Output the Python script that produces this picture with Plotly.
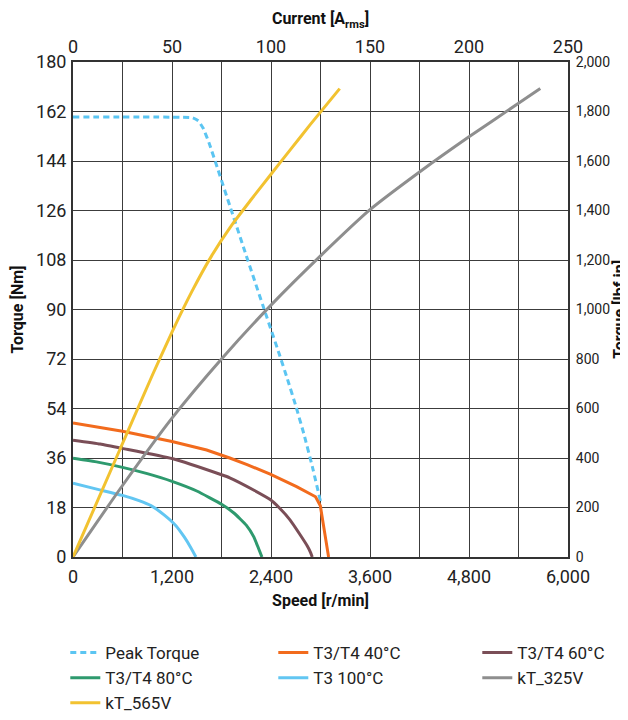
import plotly.graph_objects as go

# ---- data ----
peak_speed = [0, 1450, 1520, 1580, 1650, 1750, 1900, 2100, 2300, 2500, 2600, 2700, 2800, 2900, 3000]
peak_torque = [160, 159.7, 158.6, 155.8, 150.5, 141.5, 127.8, 109.6, 91.6, 73.8, 64.6, 55.0, 44.6, 33.0, 20.2]

t40_speed = [0, 600, 1200, 1620, 1900, 2110, 2390, 2710, 2940, 2998, 3098]
t40_torque = [48.7, 45.7, 42.0, 38.9, 36.0, 33.6, 30.1, 25.6, 21.9, 18.6, 0]

t60_speed = [0, 330, 600, 1200, 1800, 1900, 2200, 2390, 2500, 2630, 2755, 2840, 2880, 2900]
t60_torque = [42.5, 41.1, 39.5, 35.8, 29.9, 28.8, 24.2, 20.9, 17.9, 13.5, 8.0, 4.0, 1.6, 0]

t80_speed = [0, 300, 600, 900, 1200, 1500, 1800, 1950, 2100, 2190, 2240, 2290]
t80_torque = [35.9, 34.5, 32.6, 30.3, 27.5, 24.0, 19.2, 16.0, 11.6, 7.4, 3.8, 0]

t100_speed = [0, 300, 600, 800, 950, 1100, 1250, 1350, 1430, 1490]
t100_torque = [26.8, 24.6, 22.4, 20.5, 18.6, 15.4, 11.3, 7.2, 3.3, 0]

kt325_current = [0, 25, 50, 75, 100, 125, 150, 175, 200, 225, 236]
kt325_torque = [0, 26.0, 50.5, 72.0, 91.6, 109.5, 126.3, 140.0, 152.8, 165.0, 170.4]

kt565_current = [0, 20, 40, 50, 60, 70, 80, 90, 100, 110, 120, 134.7]
kt565_torque = [0, 33.0, 66.0, 81.8, 96.5, 109.5, 120.5, 130.0, 139.2, 148.3, 157.4, 170.3]

C_PEAK = '#5BC5F2'
C_40 = '#F26B1D'
C_60 = '#7A4E57'
C_80 = '#2E9A6E'
C_100 = '#62C6F2'
C_325 = '#8E8E8E'
C_565 = '#F2C230'

fig = go.Figure()
LW = 3
fig.add_trace(go.Scatter(x=peak_speed, y=peak_torque, name='Peak Torque', mode='lines',
                         line=dict(color=C_PEAK, width=LW, dash='6px,4px', shape='spline', smoothing=0.3),
                         legend='legend', legendgroup='a'))
fig.add_trace(go.Scatter(x=t40_speed, y=t40_torque, name='T3/T4 40°C', mode='lines',
                         line=dict(color=C_40, width=LW), legend='legend2', legendgroup='b'))
fig.add_trace(go.Scatter(x=t60_speed, y=t60_torque, name='T3/T4 60°C', mode='lines',
                         line=dict(color=C_60, width=LW, shape='spline', smoothing=0.4),
                         legend='legend3', legendgroup='c'))
fig.add_trace(go.Scatter(x=t80_speed, y=t80_torque, name='T3/T4 80°C', mode='lines',
                         line=dict(color=C_80, width=LW, shape='spline', smoothing=0.4),
                         legend='legend', legendgroup='d'))
fig.add_trace(go.Scatter(x=t100_speed, y=t100_torque, name='T3 100°C', mode='lines',
                         line=dict(color=C_100, width=LW, shape='spline', smoothing=0.5),
                         legend='legend2', legendgroup='e'))
fig.add_trace(go.Scatter(x=kt325_current, y=kt325_torque, name='kT_325V', mode='lines', xaxis='x2', yaxis='y',
                         line=dict(color=C_325, width=LW, shape='spline', smoothing=0.6),
                         legend='legend3', legendgroup='f'))
fig.add_trace(go.Scatter(x=kt565_current, y=kt565_torque, name='kT_565V', mode='lines', xaxis='x2', yaxis='y',
                         line=dict(color=C_565, width=LW, shape='spline', smoothing=0.6),
                         legend='legend', legendgroup='g'))
# anchor trace so the right-hand lbf·in axis is drawn
fig.add_trace(go.Scatter(x=[None], y=[None], xaxis='x', yaxis='y2', showlegend=False,
                         hoverinfo='skip', mode='lines'))

GRID = '#3c3c3c'
TICKFONT = dict(size=18, color='#222')
RIGHTFONT = dict(size=14, color='#222')
TITLEFONT = dict(size=16, color='#111', family='Roboto')

# page body has an 8px margin: keep the whole page within the 628x720 window
W, H = 620, 704
L, R, T, B = 64.7, 60.3, 54, 155
pw = W - L - R
ph = H - T - B

def px2x(px):
    return (px - L) / pw

def py2y(py):
    return (H - B - py) / ph

legend_common = dict(orientation='v', xanchor='left', yanchor='top', bgcolor='rgba(0,0,0,0)',
                     font=dict(size=17, color='#222'), borderwidth=0, tracegroupgap=0)

fig.update_layout(
    width=W, height=H,
    margin=dict(l=L, r=R, t=T, b=B, autoexpand=False),
    paper_bgcolor='white', plot_bgcolor='white',
    font=dict(family='Roboto', color='#222'),
    xaxis=dict(range=[0, 6000], dtick=1200, tick0=0, tickformat=',', showgrid=True, gridcolor=GRID,
               gridwidth=1.3, minor=dict(dtick=600, showgrid=True, gridcolor=GRID, gridwidth=1.3),
               showline=True, linecolor='#333', linewidth=2, ticks='', zeroline=False,
               tickfont=TICKFONT, ticklabelstandoff=2,
               title=dict(text='<b>Speed [r/min]</b>', font=TITLEFONT, standoff=9)),
    xaxis2=dict(range=[0, 250], dtick=50, tick0=0, overlaying='x', side='top', anchor='y',
                showgrid=False, showline=True, linecolor='#333', linewidth=2, ticks='', zeroline=False,
                tickfont=TICKFONT, ticklabelstandoff=0,
                title=dict(text='<b>Current [A<sub>rms</sub>]</b>', font=TITLEFONT, standoff=7)),
    yaxis=dict(range=[0, 180], dtick=18, tick0=0, showgrid=True, gridcolor=GRID, gridwidth=1.3,
               showline=True, linecolor='#333', linewidth=2, ticks='', zeroline=False,
               tickfont=TICKFONT, ticklabelstandoff=1,
               title=dict(text='<b>Torque [Nm]</b>', font=TITLEFONT, standoff=8)),
    yaxis2=dict(range=[0, 2000], dtick=200, tick0=0, tickformat=',', overlaying='y', side='right', anchor='x',
                showgrid=False, showline=True, linecolor='#333', linewidth=2, ticks='', zeroline=False,
                tickfont=RIGHTFONT, ticklabelstandoff=3),
    annotations=[dict(text='<b>Torque [lbf in]</b>', xref='paper', yref='paper', x=px2x(611), y=0.5,
                      textangle=-90, showarrow=False, xanchor='center', yanchor='middle', font=TITLEFONT)],
    legend=dict(x=px2x(57), y=py2y(627), **legend_common),
    legend2=dict(x=px2x(265), y=py2y(627), **legend_common),
    legend3=dict(x=px2x(469), y=py2y(627), **legend_common),
)

fig.write_html('out.html')
